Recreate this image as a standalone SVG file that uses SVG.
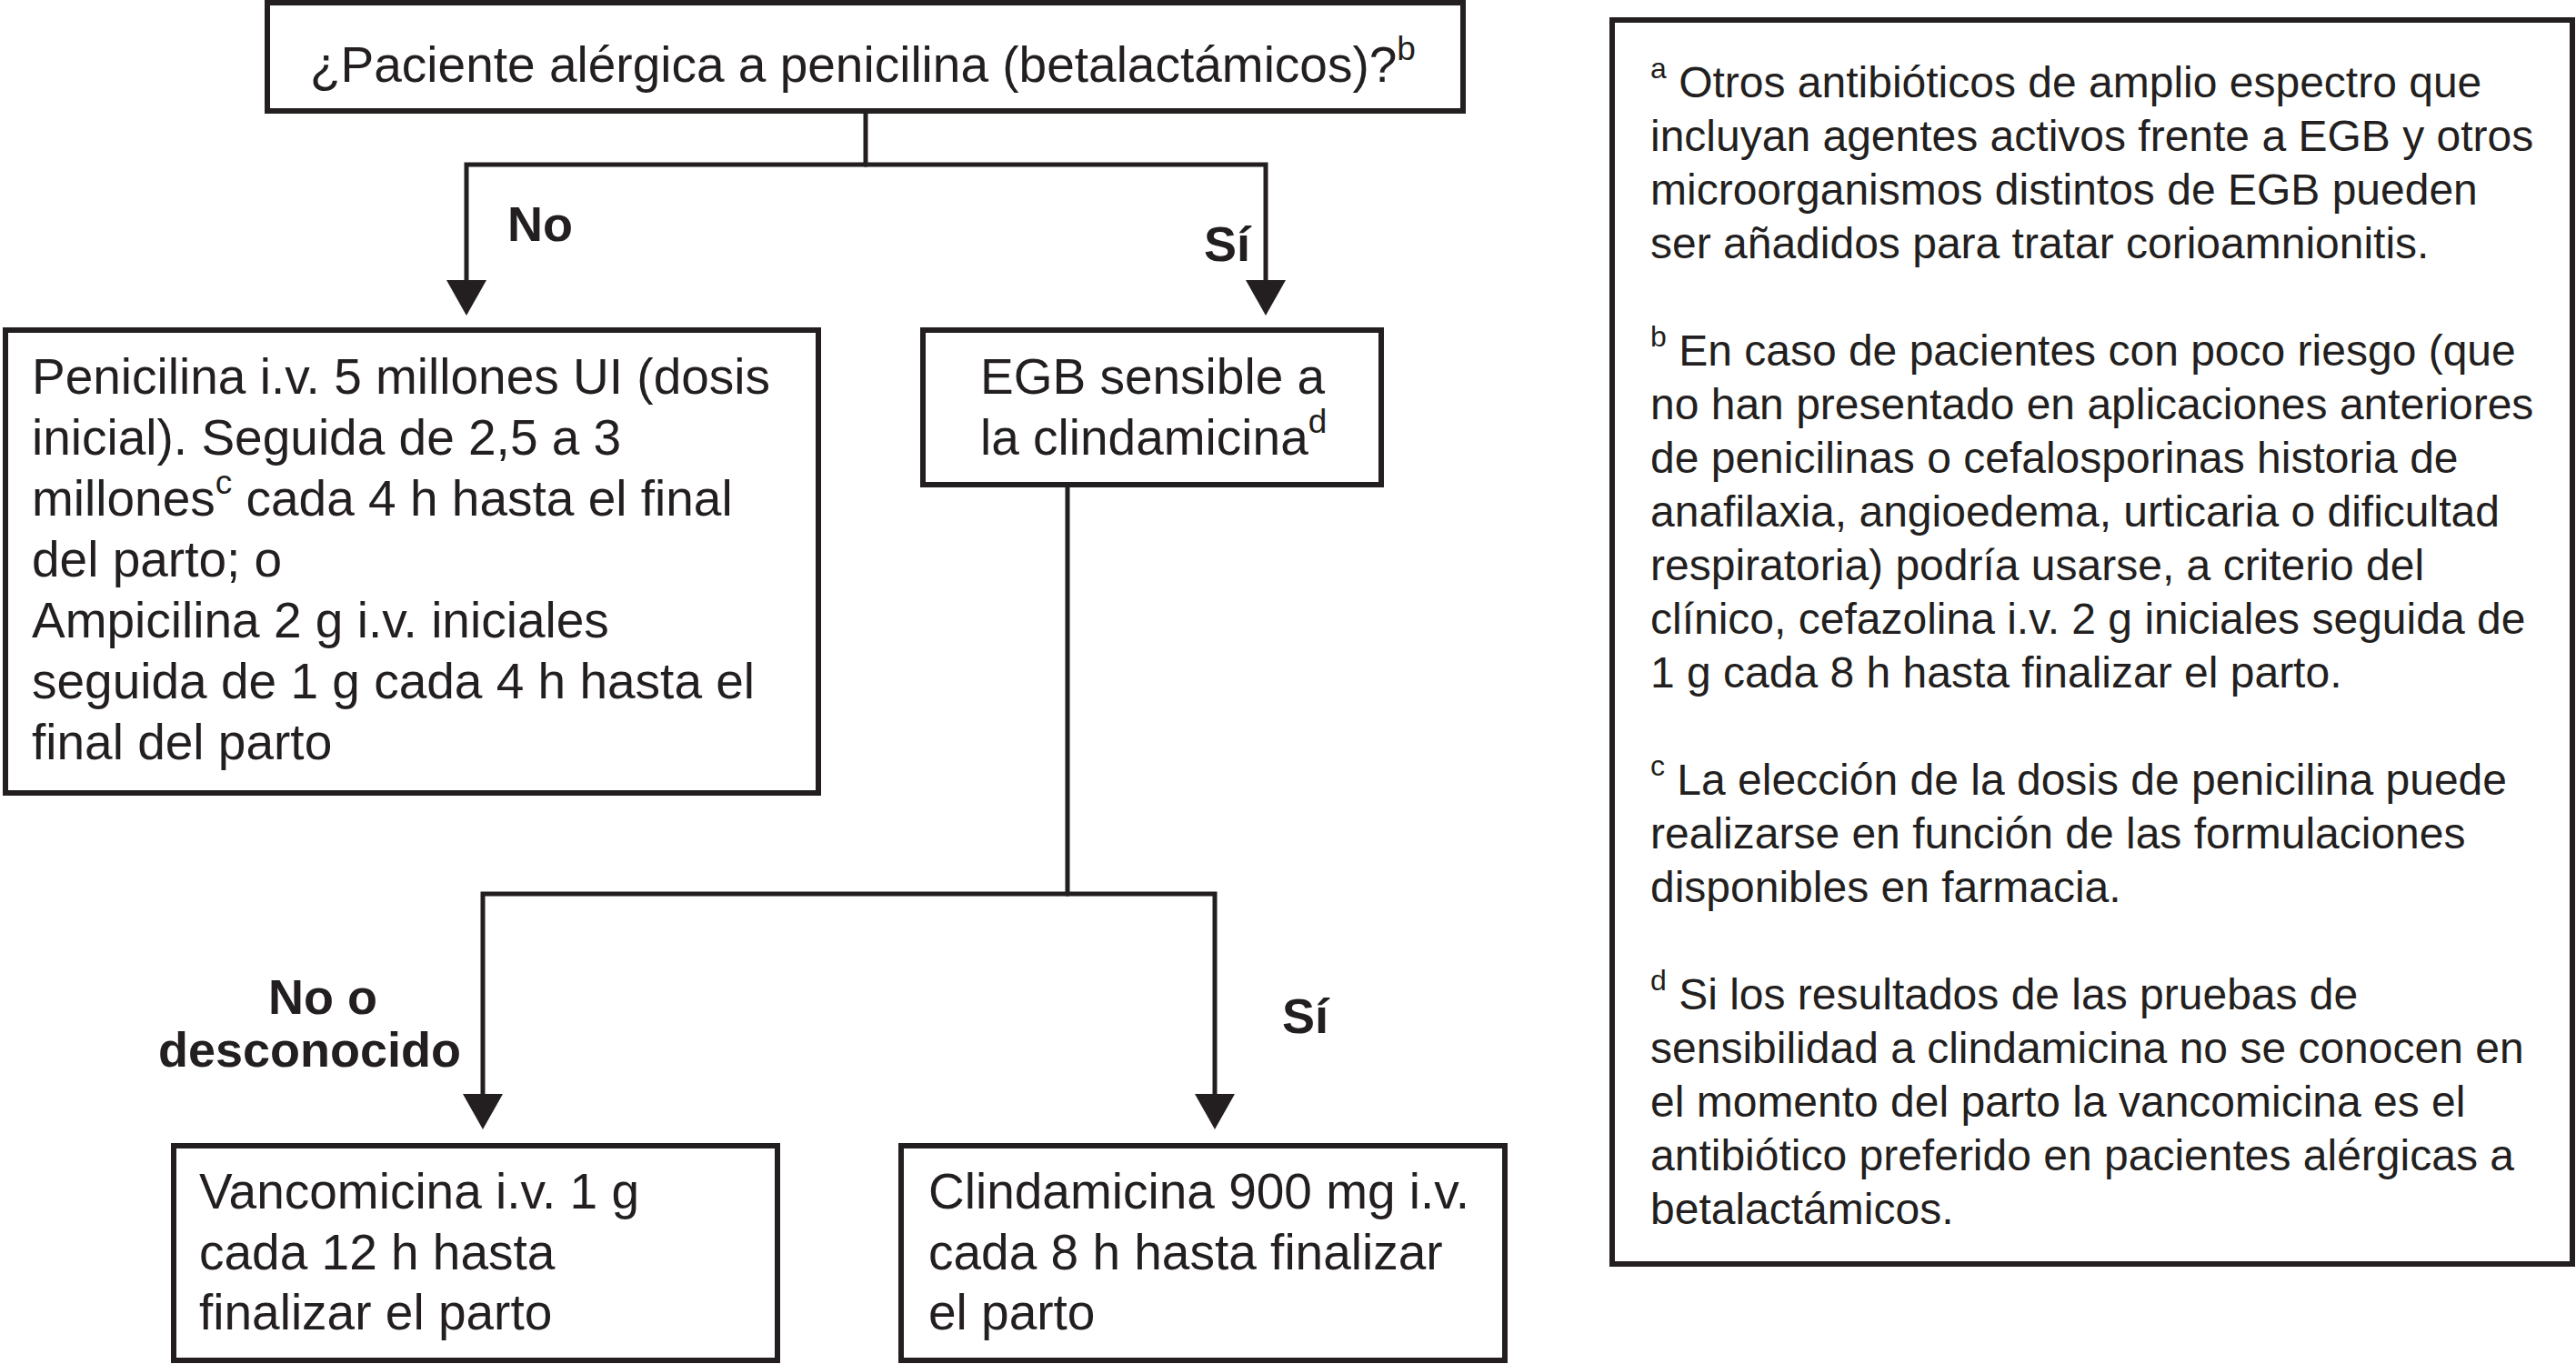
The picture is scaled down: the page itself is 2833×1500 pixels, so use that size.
<svg xmlns="http://www.w3.org/2000/svg" width="2833" height="1500" viewBox="0 0 2833 1500">
<style>
.box{fill:#fff;stroke:#231f20;stroke-width:6}
.con{fill:none;stroke:#231f20;stroke-width:5;stroke-linejoin:miter}
.t{font-family:"Liberation Sans",Arial,Helvetica,sans-serif;font-size:55px;fill:#231f20}
.n{font-family:"Liberation Sans",Arial,Helvetica,sans-serif;font-size:48px;fill:#231f20}
.lb{font-family:"Liberation Sans",Arial,Helvetica,sans-serif;font-size:54px;font-weight:bold;fill:#231f20}
.s{font-size:37px}
.sn{font-size:32px}
</style>
<defs>
<marker id="ah" markerUnits="userSpaceOnUse" markerWidth="40" markerHeight="44" viewBox="0 0 40 44" refX="22" refY="22" orient="auto">
<path d="M0,0 L39,22 L0,44 Z" fill="#231f20"/>
</marker>
</defs>
<rect width="2833" height="1500" fill="#fff"/>
<g id="connectors">
<path class="con" d="M952,122 V181"/>
<path class="con" d="M954,181 H513 V330" marker-end="url(#ah)"/>
<path class="con" d="M950,181 H1392 V330" marker-end="url(#ah)"/>
<path class="con" d="M1174,533 V983"/>
<path class="con" d="M1176,983 H531 V1225" marker-end="url(#ah)"/>
<path class="con" d="M1172,983 H1336 V1225" marker-end="url(#ah)"/>
<text class="lb" x="558" y="265">No</text>
<text class="lb" x="1324" y="287">Sí</text>
<text class="lb" x="295" y="1115">No o</text>
<text class="lb" x="174" y="1173">desconocido</text>
<text class="lb" x="1410" y="1136">Sí</text>
</g>
<g id="q1">
<rect class="box" x="294" y="3" width="1315" height="119"/>
<text class="t" x="341" y="90">¿Paciente alérgica a penicilina (betalactámicos)?<tspan class="s" dy="-24">b</tspan></text>
</g>
<g id="penicilina">
<rect class="box" x="6" y="363" width="894" height="509"/>
<text class="t" x="35" y="433">Penicilina i.v. 5 millones UI (dosis</text>
<text class="t" x="35" y="500">inicial). Seguida de 2,5 a 3</text>
<text class="t" x="35" y="567">millones<tspan class="s" dy="-24">c</tspan><tspan dy="24"> cada 4 h hasta el final</tspan></text>
<text class="t" x="35" y="634">del parto; o</text>
<text class="t" x="35" y="701">Ampicilina 2 g i.v. iniciales</text>
<text class="t" x="35" y="768">seguida de 1 g cada 4 h hasta el</text>
<text class="t" x="35" y="835">final del parto</text>
</g>
<g id="egb">
<rect class="box" x="1015" y="363" width="504" height="170"/>
<text class="t" x="1078" y="433">EGB sensible a</text>
<text class="t" x="1078" y="500">la clindamicina<tspan class="s" dy="-24">d</tspan></text>
</g>
<g id="vancomicina">
<rect class="box" x="191" y="1260" width="664" height="236"/>
<text class="t" x="219" y="1329">Vancomicina i.v. 1 g</text>
<text class="t" x="219" y="1396">cada 12 h hasta</text>
<text class="t" x="219" y="1462">finalizar el parto</text>
</g>
<g id="clindamicina">
<rect class="box" x="991" y="1260" width="664" height="236"/>
<text class="t" x="1021" y="1329">Clindamicina 900 mg i.v.</text>
<text class="t" x="1021" y="1396">cada 8 h hasta finalizar</text>
<text class="t" x="1021" y="1462">el parto</text>
</g>
<g id="notas">
<rect class="box" x="1773" y="22" width="1056" height="1368"/>
<text class="n" x="1815" y="107"><tspan class="sn" dy="-21">a</tspan><tspan dy="21"> Otros antibióticos de amplio espectro que</tspan></text>
<text class="n" x="1815" y="166">incluyan agentes activos frente a EGB y otros</text>
<text class="n" x="1815" y="225">microorganismos distintos de EGB pueden</text>
<text class="n" x="1815" y="284">ser añadidos para tratar corioamnionitis.</text>
<text class="n" x="1815" y="402"><tspan class="sn" dy="-21">b</tspan><tspan dy="21"> En caso de pacientes con poco riesgo (que</tspan></text>
<text class="n" x="1815" y="461">no han presentado en aplicaciones anteriores</text>
<text class="n" x="1815" y="520">de penicilinas o cefalosporinas historia de</text>
<text class="n" x="1815" y="579">anafilaxia, angioedema, urticaria o dificultad</text>
<text class="n" x="1815" y="638">respiratoria) podría usarse, a criterio del</text>
<text class="n" x="1815" y="697">clínico, cefazolina i.v. 2 g iniciales seguida de</text>
<text class="n" x="1815" y="756">1 g cada 8 h hasta finalizar el parto.</text>
<text class="n" x="1815" y="874"><tspan class="sn" dy="-21">c</tspan><tspan dy="21"> La elección de la dosis de penicilina puede</tspan></text>
<text class="n" x="1815" y="933">realizarse en función de las formulaciones</text>
<text class="n" x="1815" y="992">disponibles en farmacia.</text>
<text class="n" x="1815" y="1110"><tspan class="sn" dy="-21">d</tspan><tspan dy="21"> Si los resultados de las pruebas de</tspan></text>
<text class="n" x="1815" y="1169">sensibilidad a clindamicina no se conocen en</text>
<text class="n" x="1815" y="1228">el momento del parto la vancomicina es el</text>
<text class="n" x="1815" y="1287">antibiótico preferido en pacientes alérgicas a</text>
<text class="n" x="1815" y="1346">betalactámicos.</text>
</g>
</svg>
